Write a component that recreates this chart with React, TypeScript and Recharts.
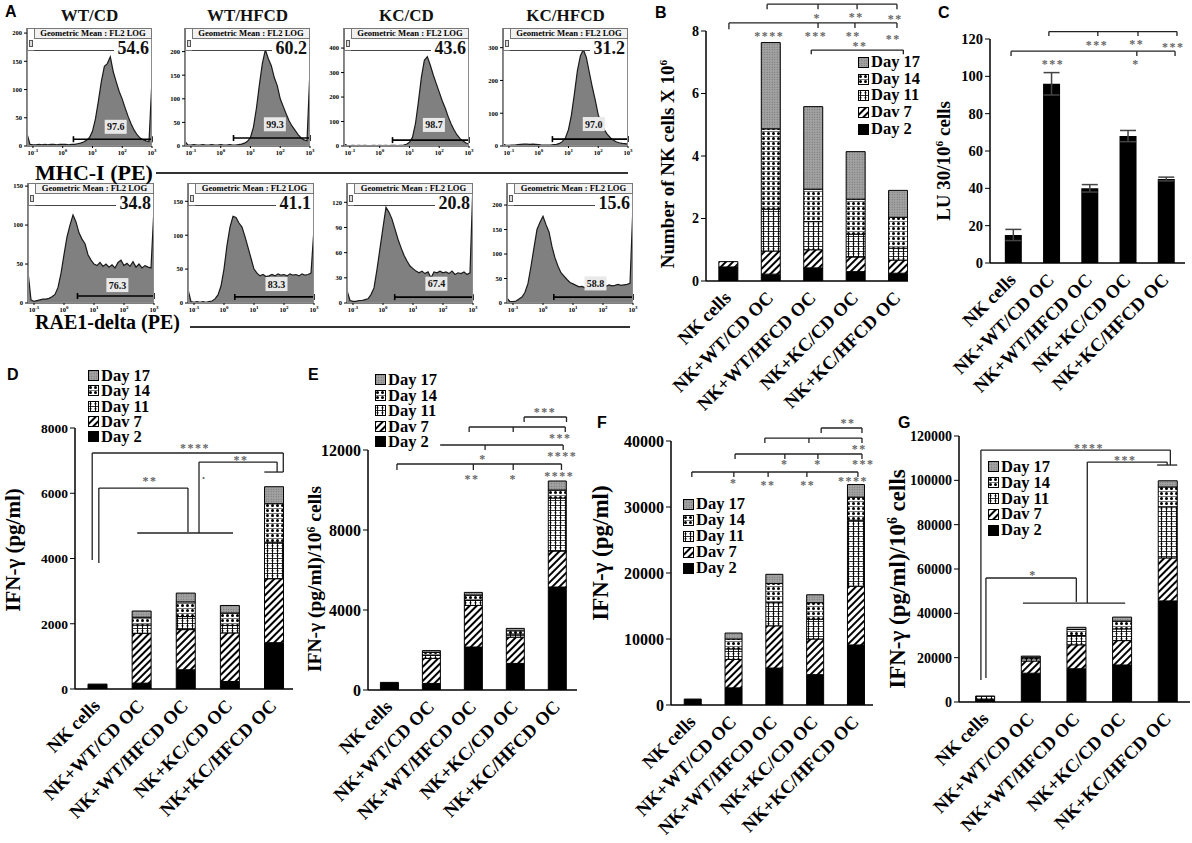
import React from "react";
import {
  AreaChart,
  Area,
  BarChart,
  Bar,
  XAxis,
  YAxis,
  ReferenceLine,
  ReferenceDot,
  ErrorBar,
  Legend,
} from "recharts";

const SERIF = '"Liberation Serif", "Times New Roman", serif';
const SANS = '"Liberation Sans", Arial, sans-serif';

// ---------- panel A: flow cytometry histograms ----------
const decades = [
  -1.2, -1.1, -1.0, -0.9, -0.8, -0.7, -0.6, -0.5, -0.4, -0.3, -0.2, -0.1, 0, 0.1, 0.2, 0.3, 0.4, 0.5, 0.6, 0.7,
  0.8, 0.9, 1.0, 1.1, 1.2, 1.3, 1.4, 1.5, 1.6, 1.7, 1.8, 1.9, 2.0, 2.1, 2.2, 2.3, 2.4, 2.5, 2.6, 2.7, 2.8, 2.9, 3.0,
];
const logTicks = [-1, 0, 1, 2, 3];

const mhcTitles = ["WT/CD", "WT/HFCD", "KC/CD", "KC/HFCD"];
const mhcMeans = ["54.6", "60.2", "43.6", "31.2"];
const mhcGated = ["97.6", "99.3", "98.7", "97.0"];
const raeMeans = ["34.8", "41.1", "20.8", "15.6"];
const raeGated = ["76.3", "83.3", "67.4", "58.8"];

const mhcWtCd = [22, 3, 2, 2, 3, 2, 3, 2, 3, 3, 2, 3, 3, 3, 2, 3, 3, 4, 5, 7, 10, 15, 26, 48, 80, 115, 141, 146, 158, 131, 113, 96, 83, 67, 52, 39, 28, 20, 14, 11, 9, 8, 118];
const mhcWtHfcd = [10, 2, 2, 3, 2, 2, 3, 2, 2, 3, 2, 2, 3, 2, 2, 3, 2, 2, 3, 4, 6, 10, 18, 40, 80, 130, 175, 204, 185, 170, 145, 128, 100, 84, 68, 53, 42, 33, 24, 17, 13, 11, 162];
const mhcKcCd = [8, 3, 2, 3, 2, 3, 2, 3, 2, 2, 3, 2, 3, 2, 3, 2, 3, 3, 2, 3, 4, 7, 15, 35, 90, 180, 280, 350, 365, 330, 290, 255, 220, 185, 155, 120, 90, 65, 45, 30, 20, 12, 8];
const mhcKcHfcd = [6, 2, 2, 3, 3, 4, 5, 6, 6, 5, 6, 5, 4, 3, 3, 3, 3, 4, 5, 8, 14, 25, 50, 95, 160, 230, 275, 294, 270, 225, 180, 140, 95, 70, 50, 36, 26, 18, 13, 10, 8, 7, 6];
const raeWtCd = [40, 4, 2, 3, 4, 5, 5, 6, 8, 11, 20, 38, 62, 85, 100, 113, 104, 90, 82, 76, 62, 55, 50, 48, 52, 47, 50, 46, 49, 45, 52, 55, 48, 51, 47, 53, 46, 50, 45, 48, 46, 45, 122];
const raeWtHfcd = [20, 2, 1, 2, 1, 2, 1, 2, 3, 6, 12, 25, 50, 85, 112, 128, 126, 118, 112, 98, 82, 66, 50, 44, 40, 42, 39, 40, 42, 40, 43, 41, 42, 40, 43, 41, 42, 40, 43, 41, 42, 44, 110];
const raeKcCd = [15, 3, 2, 2, 3, 3, 4, 5, 10, 18, 40, 65, 90, 114, 108, 100, 88, 76, 66, 57, 50, 44, 41, 38, 36, 38, 35, 37, 30, 37, 36, 38, 36, 37, 35, 38, 34, 36, 35, 37, 34, 36, 143];
const raeKcHfcd = [10, 3, 3, 4, 8, 12, 22, 40, 75, 113, 150, 165, 177, 160, 145, 115, 92, 75, 62, 55, 48, 42, 39, 36, 33, 34, 31, 33, 30, 32, 35, 33, 36, 34, 37, 35, 36, 38, 36, 37, 38, 40, 200];

const mhcCounts = [mhcWtCd, mhcWtHfcd, mhcKcCd, mhcKcHfcd];
const raeCounts = [raeWtCd, raeWtHfcd, raeKcCd, raeKcHfcd];

// histogram layout
const mhcLefts = [27, 185, 344, 503];
const raeLefts = [28, 188, 347, 507];
const mhcMax = [209, 250, 482, 360];
const raeMax = [154, 177, 143, 245];
const mhcYTicks = [[0, 50, 100, 150, 200], [0, 50, 100, 150, 200], [0, 100, 200, 300, 400], [0, 100, 200, 300]];
const raeYTicks = [[0, 50, 100, 150], [0, 50, 100, 150], [0, 30, 60, 90, 120], [0, 50, 100, 150, 200]];
// gate start, gate level, label x, label y (in axis units)
const mhcGates = [[0.36, 12, 1.78, 34], [0.43, 17, 1.82, 46], [0.43, 24, 1.82, 86], [0.46, 21, 1.85, 67]];
const raeGates = [[0.45, 9, 1.78, 23], [0.36, 9, 1.75, 28], [0.39, 7, 1.78, 23], [0.36, 12, 1.75, 40]];

// ---------- panels B-G ----------
const groups = ["NK cells", "NK+WT/CD OC", "NK+WT/HFCD OC", "NK+KC/CD OC", "NK+KC/HFCD OC"];
const dayNames = ["Day 2", "Dav 7", "Day 11", "Day 14", "Day 17"];
const dayKeys = ["d2", "d7", "d11", "d14", "d17"];
const dayFills = ["#000", "url(#hatch7)", "url(#grid11)", "url(#dots14)", "url(#gray17)"];

const bDay2 = [0.45, 0.22, 0.42, 0.3, 0.25];
const bDay7 = [0.17, 0.74, 0.58, 0.47, 0.42];
const bDay11 = [0, 1.34, 0.9, 0.73, 0.38];
const bDay14 = [0, 2.57, 1.04, 1.12, 0.99];
const bDay17 = [0, 2.76, 2.64, 1.52, 0.86];

const cLytic = [15, 96, 40, 68, 45];
const cErr = [3, 6, 2, 3, 1];

const dDay2 = [150, 180, 590, 230, 1420];
const dDay7 = [0, 1530, 1230, 1490, 1960];
const dDay11 = [0, 250, 400, 230, 1120];
const dDay14 = [0, 240, 450, 380, 1180];
const dDay17 = [0, 190, 270, 230, 520];

const eDay2 = [380, 330, 2150, 1330, 5150];
const eDay7 = [0, 1250, 2080, 1310, 1800];
const eDay11 = [0, 170, 270, 160, 2650];
const eDay14 = [0, 130, 250, 160, 400];
const eDay17 = [0, 90, 130, 120, 450];

const fDay2 = [900, 2600, 5600, 4600, 9100];
const fDay7 = [0, 4300, 6400, 5400, 8900];
const fDay11 = [0, 1600, 3500, 3000, 10000];
const fDay14 = [0, 1500, 2900, 2500, 3500];
const fDay17 = [0, 900, 1400, 1200, 1900];

const gDay2 = [1300, 13000, 15000, 16700, 45600];
const gDay7 = [0, 5500, 10800, 11000, 19400];
const gDay11 = [1400, 1000, 4200, 5300, 23000];
const gDay14 = [0, 700, 2700, 3500, 9000];
const gDay17 = [0, 500, 1000, 1800, 2800];

const stackRows = (...series: number[][]) =>
  groups.map((name, i) => {
    const row: any = { i, name };
    dayKeys.forEach((k, j) => (row[k] = series[j][i]));
    return row;
  });

// significance brackets [x1, y1, x2, y2] and stars [x, y, text], in axis units
type Seg = number[];
type Star = [number, number, string];

const bSegs: Seg[] = [
  [0.92, 8.86, 3.98, 8.86], [0.92, 8.86, 0.92, 8.7], [2.12, 8.86, 2.12, 8.7], [3.04, 8.86, 3.04, 8.7], [3.98, 8.86, 3.98, 8.7],
  [0.02, 8.26, 3.98, 8.26], [0.02, 8.26, 0.02, 8.06], [2.12, 8.26, 2.12, 8.1], [2.99, 8.26, 2.99, 8.1], [3.98, 8.26, 3.98, 8.1],
  [1.96, 7.39, 4.13, 7.39], [1.96, 7.39, 1.96, 7.26], [4.13, 7.39, 4.13, 7.26],
];
const bStars: Star[] = [
  [2.1, 8.48, "*"], [3.02, 8.51, "**"], [3.94, 8.45, "**"], [0.97, 7.9, "****"], [2.07, 7.9, "***"],
  [2.95, 7.9, "**"], [3.89, 7.8, "**"], [3.11, 7.58, "**"],
];
const cSegs: Seg[] = [
  [0.94, 124, 4.29, 124], [0.94, 124, 0.94, 121.6], [2.22, 124, 2.22, 121.6], [3.27, 124, 3.27, 121.6], [4.29, 124, 4.29, 121.6],
  [-0.05, 113.5, 4.24, 113.5], [-0.05, 113.5, -0.05, 110.9], [3.24, 113.5, 3.24, 110.9], [4.24, 113.5, 4.24, 110.9],
];
const cStars: Star[] = [[2.2, 117.8, "***"], [3.24, 118.4, "**"], [4.19, 116.8, "***"], [1.05, 107.7, "***"], [3.22, 107.7, "*"]];
const dSegs: Seg[] = [
  [-0.11, 7233, 4.22, 7233], [-0.11, 7233, -0.11, 3953], [4.22, 7233, 4.22, 6650],
  [0.04, 6160, 2.06, 6160], [0.04, 6160, 0.04, 3861], [2.06, 6160, 2.06, 4811],
  [0.91, 4781, 3.08, 4781],
  [2.31, 4781, 2.31, 6957], [2.31, 6957, 4.08, 6957], [4.08, 6957, 4.08, 6650], [3.79, 6650, 4.22, 6650],
];
const dStars: Star[] = [[2.22, 7447, "****"], [1.2, 6436, "**"], [3.26, 7080, "**"], [2.43, 6620, "."]];
const eSegs: Seg[] = [
  [3.21, 13650, 4.22, 13650], [3.21, 13650, 3.21, 13400], [4.22, 13650, 4.22, 13400],
  [1.9, 13150, 4.19, 13150], [1.9, 13150, 1.9, 12900], [2.95, 13150, 2.95, 12900], [4.19, 13150, 4.19, 12900],
  [1.21, 12250, 4.14, 12250], [2.28, 12250, 2.28, 12000], [4.14, 12250, 4.14, 12000],
  [0.18, 11300, 4.1, 11300], [0.18, 11300, 0.18, 11000], [2.0, 11300, 2.0, 11000], [2.95, 11300, 2.95, 11000], [4.1, 11300, 4.1, 11000],
];
const eStars: Star[] = [
  [3.71, 14000, "***"], [4.07, 12700, "***"], [4.12, 11800, "****"], [2.23, 11650, "*"],
  [1.97, 10650, "**"], [2.95, 10650, "*"], [4.05, 10800, "****"],
];
const fSegs: Seg[] = [
  [3.15, 41970, 4.15, 41970], [3.15, 41970, 3.15, 41200], [4.15, 41970, 4.15, 41200],
  [1.77, 40450, 4.15, 40450], [1.77, 40450, 1.77, 39700], [2.85, 40450, 2.85, 39700], [4.15, 40450, 4.15, 39700],
  [1.04, 38030, 4.15, 38030], [1.04, 38030, 1.04, 37270], [2.26, 38030, 2.26, 37270], [3.07, 38030, 3.07, 37270], [4.15, 38030, 4.15, 37270],
  [-0.02, 35300, 4.05, 35300], [-0.02, 35300, -0.02, 34550], [1.01, 35300, 1.01, 34550], [1.85, 35300, 1.85, 34550], [2.8, 35300, 2.8, 34550], [4.05, 35300, 4.05, 34550],
];
const fStars: Star[] = [
  [3.81, 43030, "**"], [4.08, 39090, "**"], [2.26, 36820, "*"], [3.07, 36820, "*"], [4.18, 36820, "***"],
  [1.01, 33940, "*"], [1.85, 33640, "**"], [2.82, 33640, "**"], [3.93, 34240, "****"],
];
const gSegs: Seg[] = [
  [-0.1, 113670, 4.05, 113670], [-0.1, 113670, -0.1, 9920], [4.05, 113670, 4.05, 106900], [3.76, 106900, 4.2, 106900],
  [2.23, 108250, 3.98, 108250], [2.23, 108250, 2.23, 44650], [3.98, 108250, 3.98, 106900],
  [0.01, 55930, 1.99, 55930], [0.01, 55930, 0.01, 10830], [1.99, 55930, 1.99, 45100],
  [0.82, 44650, 3.06, 44650],
];
const gStars: Star[] = [[2.27, 115470, "****"], [3.06, 110060, "***"], [1.04, 58190, "*"]];

function Patterns() {
  return (
    <svg width={0} height={0} style={{ position: "absolute" }}>
      <defs>
        <pattern id="hatch7" width={5} height={5} patternUnits="userSpaceOnUse" patternTransform="rotate(45)">
          <rect width={5} height={5} fill="#fff" />
          <rect x={0} y={0} width={2} height={5} fill="#000" />
        </pattern>
        <pattern id="grid11" width={5} height={5} patternUnits="userSpaceOnUse">
          <rect width={5} height={5} fill="#fff" />
          <path d="M0,0.4 H5 M2.5,0 V5" stroke="#000" strokeWidth={0.9} />
          <circle cx={2.5} cy={2.7} r={1} fill="#000" />
        </pattern>
        <pattern id="dots14" width={5} height={5} patternUnits="userSpaceOnUse">
          <rect width={5} height={5} fill="#fff" />
          <circle cx={2.5} cy={2.5} r={1.5} fill="#000" />
          <path d="M0,0.4 H5" stroke="#000" strokeWidth={0.6} />
        </pattern>
        <pattern id="gray17" width={2.5} height={2.5} patternUnits="userSpaceOnUse">
          <rect width={2.5} height={2.5} fill="#a3a3a3" />
          <circle cx={1.2} cy={1.2} r={0.6} fill="#6e6e6e" />
        </pattern>
      </defs>
    </svg>
  );
}

function LogTick(props: any) {
  const { x, y, payload } = props;
  return (
    <text x={x} y={y + 5} textAnchor="middle" fontFamily={SERIF} fontWeight="bold" fontSize={6.5} fill="#000">
      10
      <tspan dy={-3} fontSize={5}>
        {payload.value}
      </tspan>
    </text>
  );
}

function GateShape(p: any) {
  return (
    <g stroke="#000" strokeWidth={1.6}>
      <line x1={p.x1} y1={p.y1} x2={p.x2} y2={p.y2} />
      <line x1={p.x1} y1={p.y1 - 3} x2={p.x1} y2={p.y1 + 3} />
      <line x1={p.x2} y1={p.y2 - 3} x2={p.x2} y2={p.y2 + 3} />
    </g>
  );
}

const pctShape = (label: string) => (p: any) => (
  <g>
    <rect x={p.cx - 11} y={p.cy - 7} width={22} height={14} fill="#e9e9e9" />
    <text x={p.cx} y={p.cy + 3.5} textAnchor="middle" fontFamily={SERIF} fontWeight="bold" fontSize={10} fill="#111">
      {label}
    </text>
  </g>
);

function Histo(props: {
  x: number; y: number; w: number; h: number; yMax: number; yTicks: number[];
  counts: number[]; mean: string; gated: string; gate: number[];
}) {
  const { x, y, w, h, yMax, yTicks, counts, mean, gated, gate } = props;
  const data = decades.map((d, i) => ({ d, c: counts[i] }));
  const abs = (s: React.CSSProperties): React.CSSProperties => ({ position: "absolute", boxSizing: "border-box", ...s });
  return (
    <>
      <div style={abs({ left: x - 22, top: y })}>
        <AreaChart width={w + 32} height={h + 16} data={data} margin={{ top: 0, right: 10, left: 0, bottom: 0 }}>
          <XAxis
            type="number"
            dataKey="d"
            domain={[-1.2, 3]}
            ticks={logTicks}
            interval={0}
            height={16}
            tickSize={2}
            tick={<LogTick />}
            axisLine={{ stroke: "#000" }}
            tickLine={{ stroke: "#000" }}
            allowDataOverflow
          />
          <YAxis
            domain={[0, yMax]}
            ticks={yTicks}
            interval={0}
            width={22}
            tickSize={3}
            tick={{ fontSize: 6.5, fontFamily: SERIF, fontWeight: "bold", fill: "#000" }}
            axisLine={{ stroke: "#000" }}
            tickLine={{ stroke: "#000" }}
            allowDataOverflow
          />
          <Area type="linear" dataKey="c" stroke="#1a1a1a" strokeWidth={1.2} fill="#808080" fillOpacity={1} isAnimationActive={false} />
          <ReferenceLine segment={[{ x: gate[0], y: gate[1] }, { x: 3, y: gate[1] }]} shape={GateShape} ifOverflow="visible" />
          <ReferenceDot x={gate[2]} y={gate[3]} r={0} shape={pctShape(gated)} ifOverflow="visible" />
        </AreaChart>
      </div>
      <div style={abs({ left: x, top: y, width: w, height: h, border: "1px solid #8c8c8c" })} />
      <div style={abs({ left: x, top: y, width: 8, height: 23, border: "1px solid #777", background: "#fff" })}>
        <div style={abs({ left: 1, top: 11, width: 4, height: 7, border: "1px solid #555", background: "#ddd" })} />
      </div>
      <div
        style={abs({
          left: x + 7, top: y, width: w - 7, height: 11, border: "1px solid #777", background: "#f1f1f1",
          fontFamily: SERIF, fontWeight: "bold", fontSize: 8.6, lineHeight: "9px", textAlign: "center", whiteSpace: "nowrap",
        })}
      >
        Geometric Mean : FL2 LOG
      </div>
      <div style={abs({ left: x + 7, top: y + 11, width: w - 45, height: 12, borderBottom: "1px solid #444", background: "#fff" })} />
      <div
        style={abs({
          left: x, top: y + 10, width: w - 3, textAlign: "right", fontFamily: SERIF, fontWeight: "bold",
          fontSize: 18, lineHeight: "20px", color: "#111",
        })}
      >
        {mean}
      </div>
    </>
  );
}

function GroupTick(props: any) {
  const { x, y, payload } = props;
  const ax = x + 4;
  const ay = y + 10;
  return (
    <text x={ax} y={ay} transform={`rotate(-45 ${ax} ${ay})`} textAnchor="end" fontFamily={SERIF} fontWeight="bold" fontSize={18.5} fill="#000">
      {groups[payload.value]}
    </text>
  );
}

const starShape = (label: string) => (p: any) => (
  <text x={p.cx} y={p.cy + 6} textAnchor="middle" fontFamily={SERIF} fontWeight="bold" fontSize={12} letterSpacing={1.5} fill="#666">
    {label}
  </text>
);

function DayLegend({ gap }: { gap: number }) {
  const order = [4, 3, 2, 1, 0];
  return (
    <div style={{ fontFamily: SERIF, fontWeight: "bold", fontSize: 16.5, color: "#000" }}>
      {order.map((k) => (
        <div key={k} style={{ display: "flex", alignItems: "center", height: gap, lineHeight: `${gap}px`, whiteSpace: "nowrap" }}>
          <svg width={11} height={11} style={{ marginRight: 2 }}>
            <rect x={0.5} y={0.5} width={10} height={10} fill={dayFills[k]} stroke="#000" />
          </svg>
          {dayNames[k]}
        </div>
      ))}
    </div>
  );
}

type Geo = {
  axisX: number; axisRight: number; yTop: number; yBottom: number; mt: number;
  yMax: number; yTicks: number[]; xDomain: number[]; barSize: number; tickFont: number;
};

function panelBox(g: Geo) {
  const YW = 60, XH = 150, MR = 6;
  return {
    YW, XH, MR,
    left: g.axisX - YW,
    top: g.yTop - g.mt,
    width: YW + (g.axisRight - g.axisX) + MR,
    height: g.mt + (g.yBottom - g.yTop) + XH,
  };
}

function annotations(segs: Seg[], stars: Star[]) {
  return [
    ...segs.map((s, k) => (
      <ReferenceLine key={`s${k}`} segment={[{ x: s[0], y: s[1] }, { x: s[2], y: s[3] }]} stroke="#222" strokeWidth={1.3} ifOverflow="visible" />
    )),
    ...stars.map((s, k) => <ReferenceDot key={`t${k}`} x={s[0]} y={s[1]} r={0} shape={starShape(s[2])} ifOverflow="visible" />),
  ];
}

function StackPanel({ g, rows, segs, stars, legend }: { g: Geo; rows: any[]; segs: Seg[]; stars: Star[]; legend: number[] }) {
  const b = panelBox(g);
  return (
    <div style={{ position: "absolute", left: b.left, top: b.top }}>
      <BarChart width={b.width} height={b.height} data={rows} margin={{ top: g.mt, right: b.MR, left: 0, bottom: 0 }}>
        <XAxis
          type="number"
          dataKey="i"
          domain={g.xDomain}
          ticks={[0, 1, 2, 3, 4]}
          interval={0}
          height={b.XH}
          tickLine={false}
          axisLine={{ stroke: "#000", strokeWidth: 1.5 }}
          tick={<GroupTick />}
          allowDataOverflow
        />
        <YAxis
          domain={[0, g.yMax]}
          ticks={g.yTicks}
          interval={0}
          width={b.YW}
          tickSize={5}
          tickLine={{ stroke: "#000" }}
          axisLine={{ stroke: "#000", strokeWidth: 1.5 }}
          tick={{ fill: "#000", fontFamily: SERIF, fontWeight: "bold", fontSize: g.tickFont }}
          allowDataOverflow
        />
        {dayKeys.map((k, j) => (
          <Bar key={k} dataKey={k} stackId="s" fill={dayFills[j]} stroke="#000" strokeWidth={1} barSize={g.barSize} isAnimationActive={false} />
        ))}
        <Legend
          layout="vertical"
          align="center"
          verticalAlign="middle"
          wrapperStyle={{ left: legend[0] - b.left, top: legend[1] - b.top, width: 90 }}
          content={<DayLegend gap={legend[2]} />}
        />
        {annotations(segs, stars)}
      </BarChart>
    </div>
  );
}

function LytPanel({ g }: { g: Geo }) {
  const b = panelBox(g);
  const rows = groups.map((name, i) => ({ i, name, lu: cLytic[i], err: cErr[i] }));
  return (
    <div style={{ position: "absolute", left: b.left, top: b.top }}>
      <BarChart width={b.width} height={b.height} data={rows} margin={{ top: g.mt, right: b.MR, left: 0, bottom: 0 }}>
        <XAxis
          type="number"
          dataKey="i"
          domain={g.xDomain}
          ticks={[0, 1, 2, 3, 4]}
          interval={0}
          height={b.XH}
          tickLine={false}
          axisLine={{ stroke: "#000", strokeWidth: 1.5 }}
          tick={<GroupTick />}
          allowDataOverflow
        />
        <YAxis
          domain={[0, g.yMax]}
          ticks={g.yTicks}
          interval={0}
          width={b.YW}
          tickSize={5}
          tickLine={{ stroke: "#000" }}
          axisLine={{ stroke: "#000", strokeWidth: 1.5 }}
          tick={{ fill: "#000", fontFamily: SERIF, fontWeight: "bold", fontSize: g.tickFont }}
          allowDataOverflow
        />
        <Bar dataKey="lu" fill="#000" barSize={g.barSize} isAnimationActive={false}>
          <ErrorBar dataKey="err" width={8} stroke="#444" strokeWidth={1.5} direction="y" />
        </Bar>
        {annotations(cSegs, cStars)}
      </BarChart>
    </div>
  );
}

function YTitle({ x, y, size, children }: { x: number; y: number; size: number; children: React.ReactNode }) {
  return (
    <div
      style={{
        position: "absolute", left: x, top: y, transform: "translate(-50%, -50%) rotate(-90deg)",
        fontFamily: SERIF, fontWeight: "bold", fontSize: size, whiteSpace: "nowrap", color: "#000", lineHeight: 1,
      }}
    >
      {children}
    </div>
  );
}

function Letter({ x, y, t }: { x: number; y: number; t: string }) {
  return (
    <div style={{ position: "absolute", left: x, top: y, fontFamily: SANS, fontWeight: "bold", fontSize: 16, color: "#000" }}>{t}</div>
  );
}

const geoB: Geo = { axisX: 706, axisRight: 908, yTop: 31, yBottom: 281, mt: 30, yMax: 8, yTicks: [0, 2, 4, 6, 8], xDomain: [-0.52, 4.24], barSize: 19, tickFont: 14 };
const geoC: Geo = { axisX: 990, axisRight: 1185, yTop: 39, yBottom: 263, mt: 30, yMax: 120, yTicks: [0, 20, 40, 60, 80, 100, 120], xDomain: [-0.6, 4.5], barSize: 17, tickFont: 14.5 };
const geoD: Geo = { axisX: 75, axisRight: 293, yTop: 428, yBottom: 689, mt: 65, yMax: 8000, yTicks: [0, 2000, 4000, 6000, 8000], xDomain: [-0.5, 4.44], barSize: 19, tickFont: 13.5 };
const geoE: Geo = { axisX: 368, axisRight: 577, yTop: 450, yBottom: 690, mt: 80, yMax: 12000, yTicks: [0, 4000, 8000, 12000], xDomain: [-0.51, 4.47], barSize: 18, tickFont: 16 };
const geoF: Geo = { axisX: 671, axisRight: 873, yTop: 441, yBottom: 705, mt: 35, yMax: 40000, yTicks: [0, 10000, 20000, 30000, 40000], xDomain: [-0.53, 4.42], barSize: 17, tickFont: 16 };
const geoG: Geo = { axisX: 959, axisRight: 1190, yTop: 436, yBottom: 702, mt: 10, yMax: 120000, yTicks: [0, 20000, 40000, 60000, 80000, 100000, 120000], xDomain: [-0.58, 4.48], barSize: 19, tickFont: 14 };

export default function App() {
  const sup = (t: string) => <sup style={{ fontSize: "0.6em", verticalAlign: "0.55em" }}>{t}</sup>;
  return (
    <div style={{ position: "absolute", left: 0, top: 0, width: 1192, height: 843, background: "#fff", overflow: "hidden" }}>
      <Patterns />

      {/* A */}
      {mhcTitles.map((t, k) => (
        <div
          key={t}
          style={{
            position: "absolute", left: mhcLefts[k], width: 125, top: 6, textAlign: "center",
            fontFamily: SERIF, fontWeight: "bold", fontSize: 17, color: "#111", lineHeight: "20px",
          }}
        >
          {t}
        </div>
      ))}
      {mhcCounts.map((c, k) => (
        <Histo key={`m${k}`} x={mhcLefts[k]} y={28} w={125} h={118} yMax={mhcMax[k]} yTicks={mhcYTicks[k]} counts={c} mean={mhcMeans[k]} gated={mhcGated[k]} gate={mhcGates[k]} />
      ))}
      {raeCounts.map((c, k) => (
        <Histo key={`r${k}`} x={raeLefts[k]} y={183} w={126} h={120} yMax={raeMax[k]} yTicks={raeYTicks[k]} counts={c} mean={raeMeans[k]} gated={raeGated[k]} gate={raeGates[k]} />
      ))}
      <div style={{ position: "absolute", left: 35, top: 160, fontFamily: SERIF, fontWeight: "bold", fontSize: 22, lineHeight: "26px" }}>MHC-I (PE)</div>
      <div style={{ position: "absolute", left: 156, top: 172, width: 472, height: 0, borderTop: "2px solid #333" }} />
      <div style={{ position: "absolute", left: 35, top: 310, fontFamily: SERIF, fontWeight: "bold", fontSize: 20, lineHeight: "24px" }}>RAE1-delta (PE)</div>
      <div style={{ position: "absolute", left: 190, top: 326, width: 440, height: 0, borderTop: "2px solid #333" }} />

      {/* B */}
      <StackPanel g={geoB} rows={stackRows(bDay2, bDay7, bDay11, bDay14, bDay17)} segs={bSegs} stars={bStars} legend={[858, 54, 16.7]} />
      <YTitle x={667} y={164} size={19}>Number of NK cells X 10{sup("6")}</YTitle>

      {/* C */}
      <LytPanel g={geoC} />
      <YTitle x={943} y={161} size={19}>LU 30/10{sup("6")} cells</YTitle>

      {/* D */}
      <StackPanel g={geoD} rows={stackRows(dDay2, dDay7, dDay11, dDay14, dDay17)} segs={dSegs} stars={dStars} legend={[88, 368, 15.3]} />
      <YTitle x={13} y={550} size={21}>IFN-γ (pg/ml)</YTitle>

      {/* E */}
      <StackPanel g={geoE} rows={stackRows(eDay2, eDay7, eDay11, eDay14, eDay17)} segs={eSegs} stars={eStars} legend={[375, 372, 15.5]} />
      <YTitle x={315} y={579} size={19.5}>IFN-γ (pg/ml)/10{sup("6")} cells</YTitle>

      {/* F */}
      <StackPanel g={geoF} rows={stackRows(fDay2, fDay7, fDay11, fDay14, fDay17)} segs={fSegs} stars={fStars} legend={[683, 496, 16]} />
      <YTitle x={600} y={553} size={23}>IFN-γ (pg/ml)</YTitle>

      {/* G */}
      <StackPanel g={geoG} rows={stackRows(gDay2, gDay7, gDay11, gDay14, gDay17)} segs={gSegs} stars={gStars} legend={[988, 459, 15.8]} />
      <YTitle x={897} y={579} size={23}>IFN-γ (pg/ml)/10{sup("6")} cells</YTitle>

      <Letter x={5} y={3} t="A" />
      <Letter x={655} y={4} t="B" />
      <Letter x={938} y={4} t="C" />
      <Letter x={7} y={366} t="D" />
      <Letter x={308} y={366} t="E" />
      <Letter x={597} y={414} t="F" />
      <Letter x={898} y={414} t="G" />
    </div>
  );
}
